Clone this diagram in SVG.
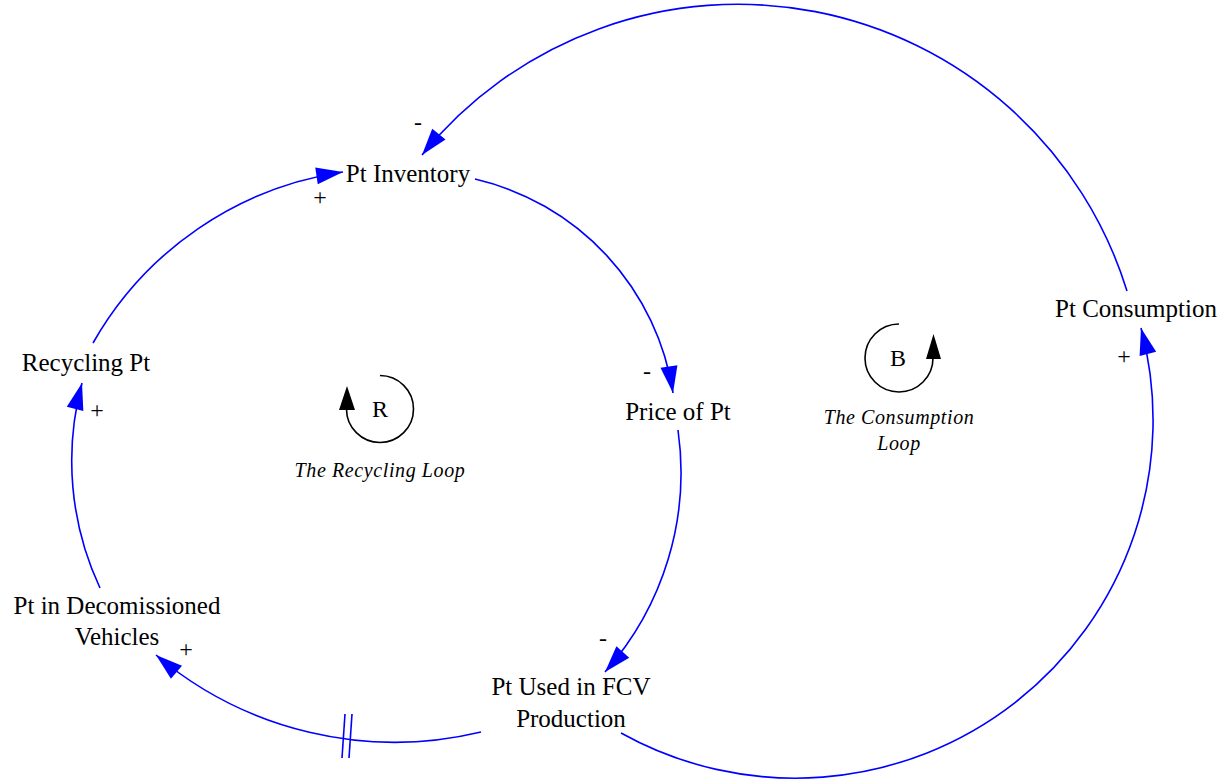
<svg xmlns="http://www.w3.org/2000/svg" width="1230" height="782" viewBox="0 0 1230 782">
<style>
.lbl{font-family:"Liberation Serif","Times New Roman",serif;font-size:25px;fill:#000;text-anchor:middle}
.pol{font-family:"Liberation Serif","Times New Roman",serif;font-size:24px;fill:#000;text-anchor:middle}
.loopname{font-family:"Liberation Serif","Times New Roman",serif;font-size:20px;font-style:italic;fill:#000;text-anchor:middle;letter-spacing:0.6px}
.lnk{fill:none;stroke:#0000FF;stroke-width:1.6}
.loop{fill:none;stroke:#000;stroke-width:1.6}
</style>
<defs>
<marker id="ah" markerUnits="userSpaceOnUse" markerWidth="30" markerHeight="20" viewBox="-26 -9 28 18" refX="0" refY="0" orient="auto">
<path d="M0,0 L-25,-8 L-25,8 Z" fill="#0000FF"/>
</marker>
</defs>
<rect width="1230" height="782" fill="#fff"/>
<g id="connectors">
<path class="lnk" d="M475,179 A260,260 0 0 1 673,393" marker-end="url(#ah)"/>
<path class="lnk" d="M678,430 A300,300 0 0 1 605,672" marker-end="url(#ah)"/>
<path class="lnk" d="M481,732 A370,370 0 0 1 156,655" marker-end="url(#ah)"/>
<path class="lnk" d="M100,588 A300,300 0 0 1 82,383" marker-end="url(#ah)"/>
<path class="lnk" d="M93,343 A345,345 0 0 1 343,172" marker-end="url(#ah)"/>
<path class="lnk" d="M621,733 A358,358 0 0 0 1141,328" marker-end="url(#ah)"/>
<path class="lnk" d="M1127,291 A407,407 0 0 0 422,155" marker-end="url(#ah)"/>
<line class="lnk" x1="345" y1="714" x2="342" y2="758"/>
<line class="lnk" x1="352" y1="714" x2="349" y2="758"/>
<text class="pol" x="418" y="130">-</text>
<text class="pol" x="320" y="205">+</text>
<text class="pol" x="647" y="379">-</text>
<text class="pol" x="603" y="646">-</text>
<text class="pol" x="186" y="657">+</text>
<text class="pol" x="97" y="418">+</text>
<text class="pol" x="1124" y="364">+</text>
</g>
<g id="pt-inventory"><text class="lbl" x="408" y="182">Pt Inventory</text></g>
<g id="price-of-pt"><text class="lbl" x="678" y="420">Price of Pt</text></g>
<g id="pt-used"><text class="lbl" x="571" y="695">Pt Used in FCV</text><text class="lbl" x="571" y="727">Production</text></g>
<g id="pt-decom"><text class="lbl" x="117" y="614">Pt in Decomissioned</text><text class="lbl" x="117" y="645">Vehicles</text></g>
<g id="recycling-pt"><text class="lbl" x="86" y="371">Recycling Pt</text></g>
<g id="pt-consumption"><text class="lbl" x="1136" y="317">Pt Consumption</text></g>
<g id="loop-r">
<path class="loop" d="M380,375.5 A33.5,33.5 0 1 1 346.5,409"/>
<path d="M347,386 L339,410 L355,410 Z" fill="#000"/>
<text class="lbl" x="380" y="417" style="font-size:24px">R</text>
<text class="loopname" x="380" y="477">The Recycling Loop</text>
</g>
<g id="loop-b">
<path class="loop" d="M899,324 A34,34 0 1 0 933,358"/>
<path d="M933.5,334 L926,359 L941,359 Z" fill="#000"/>
<text class="lbl" x="898" y="366" style="font-size:24px">B</text>
<text class="loopname" x="899" y="424">The Consumption</text>
<text class="loopname" x="899" y="450">Loop</text>
</g>
</svg>
